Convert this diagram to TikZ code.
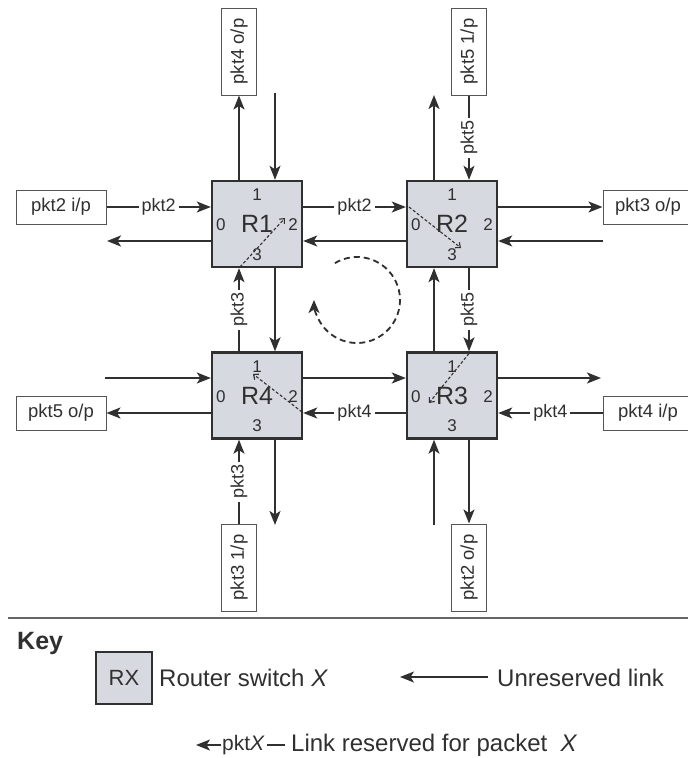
\documentclass[tikz,border=0pt]{standalone}
\usepackage{fontspec}
\setmainfont{Liberation Sans}
\usetikzlibrary{arrows.meta,calc}
\definecolor{ink}{HTML}{303030}
\definecolor{rfill}{HTML}{D7D9E0}
\definecolor{boxline}{HTML}{555555}
\begin{document}
\begin{tikzpicture}[x=1pt,y=-1pt,
  router/.style={draw=ink,line width=2.4pt,fill=rfill,minimum width=90pt,minimum height=86pt,inner sep=0pt,font=\fontsize{25}{27}\selectfont,text=ink},
  iobox/.style={draw=boxline,line width=1pt,fill=white,minimum width=90pt,minimum height=34pt,inner sep=0pt,font=\fontsize{18.5}{20}\selectfont,text=ink},
  vbox/.style={iobox,minimum width=35pt,minimum height=87pt},
  link/.style={draw=ink,line width=1.8pt,-{Stealth[length=14pt,width=11pt,inset=3.5pt]}},
  lbl/.style={fill=white,inner sep=3pt,font=\fontsize{18}{19}\selectfont,text=ink},
  port/.style={font=\fontsize{17}{18}\selectfont,text=ink,inner sep=0pt},
  innerarr/.style={draw=ink,line width=1.1pt,dash pattern=on 3pt off 2pt,-{Straight Barb[length=4pt,width=7pt]}},
  loop/.style={draw=ink,line width=1.8pt,dash pattern=on 6pt off 4pt,-{Stealth[length=13pt,width=11pt,inset=3.5pt]}},
  keytxt/.style={anchor=west,inner sep=0pt,font=\fontsize{24}{26}\selectfont,text=ink},
]
\useasboundingbox (0,0) rectangle (688,758);

% grid line helpers
\coordinate (hA) at (0,207);
\coordinate (hB) at (0,241);
\coordinate (hC) at (0,378);
\coordinate (hD) at (0,413);
\coordinate (vA) at (239,0);
\coordinate (vB) at (275,0);
\coordinate (vC) at (434,0);
\coordinate (vD) at (469,0);

% routers
\node[router] (R1) at (257,224) {R1};
\node[router] (R2) at (452,224) {R2};
\node[router] (R4) at (257,395.5) {R4};
\node[router] (R3) at (452,395.5) {R3};

\foreach \r in {R1,R2,R3,R4}{
  \node[port] at ($(\r.north)+(0,15)$) {1};
  \node[port] at ($(\r.west)+(10,1)$) {0};
  \node[port] at ($(\r.east)+(-10,1)$) {2};
  \node[port] at ($(\r.south)+(0,-14)$) {3};
}

% internal switching paths
\draw[innerarr] ($(R1.center)+(-17,43)$) -- ($(R1.center)+(28,-6)$);
\draw[innerarr] ($(R2.center)+(-43,-17)$) -- ($(R2.center)+(9,24)$);
\draw[innerarr] ($(R3.center)+(17,-42)$) -- ($(R3.center)+(-23,7.5)$);
\draw[innerarr] ($(R4.center)+(45,16.5)$) -- ($(R4.center)+(-4,-21.5)$);

% input / output boxes
\node[iobox] (pkt2i) at (61,207) {pkt2 i/p};
\node[iobox] (pkt3o) at (648,207) {pkt3 o/p};
\node[iobox] (pkt5o) at (61,413) {pkt5 o/p};
\node[iobox] (pkt4i) at (648,413) {pkt4 i/p};
\node[vbox] (pkt4o) at (239,51.5) {\rotatebox{90}{pkt4 o/p}};
\node[vbox] (pkt5i) at (469,51.5) {\rotatebox{90}{pkt5 1/p}};
\node[vbox] (pkt3i) at (239,567.5) {\rotatebox{90}{pkt3 1/p}};
\node[vbox] (pkt2o) at (469,567.5) {\rotatebox{90}{pkt2 o/p}};

% free ends
\coordinate (outL1) at (107,241);
\coordinate (inT1) at (275,93);
\coordinate (outT2) at (434,95);
\coordinate (inR2) at (603,241);
\coordinate (inL4) at (105,378);
\coordinate (outB4) at (275,525);
\coordinate (outR3) at (601,378);
\coordinate (inB3) at (434,525);

% R1
\draw[link] (pkt2i.east) -- node[lbl]{pkt2} (R1.west |- hA);
\draw[link] (R1.west |- hB) -- (outL1);
\draw[link] (R1.north -| vA) -- (pkt4o.south -| vA);
\draw[link] (inT1) -- (R1.north -| vB);
\draw[link] (R1.east |- hA) -- node[lbl]{pkt2} (R2.west |- hA);
\draw[link] (R2.west |- hB) -- (R1.east |- hB);
\draw[link] (R4.north -| vA) -- node[lbl]{\rotatebox{90}{pkt3}} (R1.south -| vA);
\draw[link] (R1.south -| vB) -- (R4.north -| vB);
% R2
\draw[link] (R2.north -| vC) -- (outT2);
\draw[link] (pkt5i.south -| vD) -- node[lbl]{\rotatebox{90}{pkt5}} (R2.north -| vD);
\draw[link] (R2.east |- hA) -- (pkt3o.west |- hA);
\draw[link] (inR2) -- (R2.east |- hB);
\draw[link] (R3.north -| vC) -- (R2.south -| vC);
\draw[link] (R2.south -| vD) -- node[lbl]{\rotatebox{90}{pkt5}} (R3.north -| vD);
% R4
\draw[link] (inL4) -- (R4.west |- hC);
\draw[link] (R4.west |- hD) -- (pkt5o.east |- hD);
\draw[link] (R4.east |- hC) -- (R3.west |- hC);
\draw[link] (R3.west |- hD) -- node[lbl]{pkt4} (R4.east |- hD);
\draw[link] (pkt3i.north -| vA) -- node[lbl]{\rotatebox{90}{pkt3}} (R4.south -| vA);
\draw[link] (R4.south -| vB) -- (outB4);
% R3
\draw[link] (R3.east |- hC) -- (outR3);
\draw[link] (pkt4i.west |- hD) -- node[lbl]{pkt4} (R3.east |- hD);
\draw[link] (inB3) -- (R3.south -| vC);
\draw[link] (R3.south -| vD) -- (pkt2o.north -| vD);

% deadlock cycle
\coordinate (cyc) at (357,300);
\draw[loop] (cyc) ++(239:43) arc[start angle=239,end angle=540,radius=43];

% separator
\coordinate (sepL) at (8,618);
\coordinate (sepR) at (688,618);
\draw[draw=gray!80!black,line width=1.1pt] (sepL) -- (sepR);

% key
\node[anchor=west,inner sep=0pt,font=\bfseries\fontsize{25}{28}\selectfont,text=ink] (key) at (17,643) {Key};
\node[router,minimum width=56pt,minimum height=52pt,line width=2pt,font=\fontsize{22}{24}\selectfont] (kbox) at (124,678) {RX};
\node[keytxt] (ktxt) at (159,678) {Router switch \textit{X}};
\coordinate (ua) at (488,677);
\coordinate (ub) at (400,677);
\draw[link,line width=1.4pt] (ua) -- (ub);
\node[keytxt] (utxt) at (497,678) {Unreserved link};
\node[anchor=west,inner sep=0pt,font=\fontsize{21}{23}\selectfont,text=ink] (pktx) at (222,745) {pkt\textit{X}};
\coordinate (kt) at (196,745);
\draw[link,line width=1.4pt] ($(pktx.west)+(-1,0)$) -- (kt);
\coordinate (kd) at (285,745);
\draw[draw=ink,line width=1.4pt] ($(pktx.east)+(2,0)$) -- (kd);
\node[keytxt] (rtxt) at (291,745) {Link reserved for packet\ \ \textit{X}};
\end{tikzpicture}
\end{document}
